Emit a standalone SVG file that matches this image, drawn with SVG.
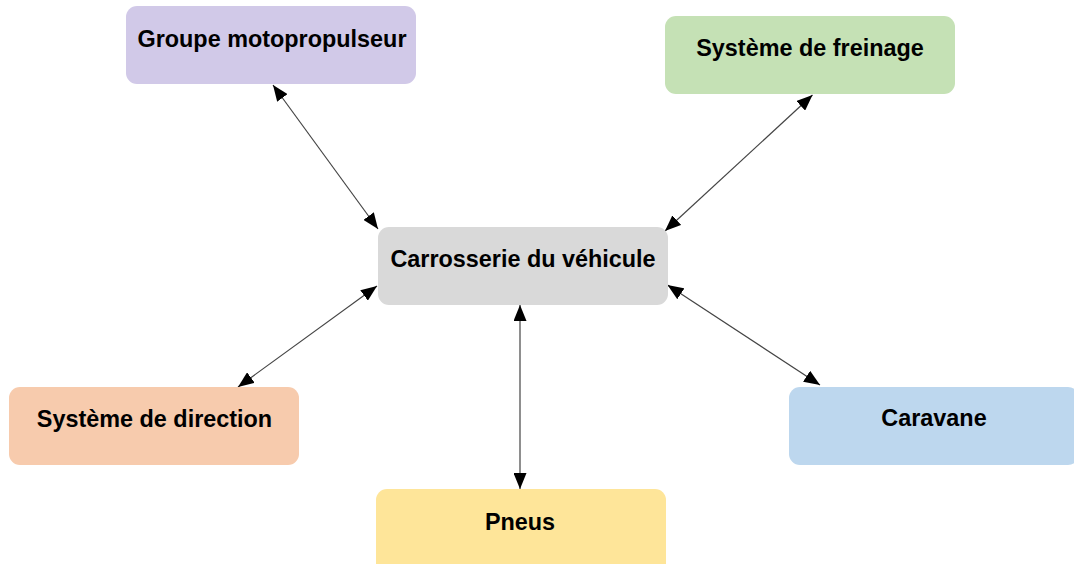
<svg xmlns="http://www.w3.org/2000/svg" width="1074" height="564" viewBox="0 0 1074 564">
<style>
.box{stroke:none}
.lbl{font-family:"Liberation Sans",Arial,sans-serif;font-weight:bold;font-size:23.4px;fill:#000;text-anchor:middle}
.conn{stroke:#444;stroke-width:1.2;fill:none;marker-start:url(#ah);marker-end:url(#ah)}
</style>
<defs>
<marker id="ah" viewBox="0 0 16 13" refX="16" refY="6.5" markerWidth="16" markerHeight="13" markerUnits="userSpaceOnUse" orient="auto-start-reverse">
<path d="M0,0 L16,6.5 L0,13 Z" fill="#000"/>
</marker>
</defs>
<rect width="1074" height="564" fill="#fff"/>
<g id="connectors">
<line class="conn" x1="273" y1="85" x2="378" y2="229"/>
<line class="conn" x1="812.5" y1="95" x2="665" y2="231"/>
<line class="conn" x1="377" y1="286" x2="238" y2="387"/>
<line class="conn" x1="520" y1="305" x2="520" y2="489"/>
<line class="conn" x1="667.5" y1="285" x2="820" y2="385"/>
</g>
<g id="groupe">
<rect class="box" x="126" y="6" width="290" height="78" rx="11" fill="#d1c9e8"/>
<text class="lbl" x="272" y="47">Groupe motopropulseur</text>
</g>
<g id="freinage">
<rect class="box" x="665" y="16" width="290" height="78" rx="11" fill="#c5e1b5"/>
<text class="lbl" x="810" y="56">Système de freinage</text>
</g>
<g id="carrosserie">
<rect class="box" x="378" y="227" width="290" height="78" rx="11" fill="#d9d9d9"/>
<text class="lbl" x="523" y="267">Carrosserie du véhicule</text>
</g>
<g id="direction">
<rect class="box" x="9" y="387" width="290" height="78" rx="11" fill="#f7cbad"/>
<text class="lbl" x="154.5" y="427">Système de direction</text>
</g>
<g id="caravane">
<rect class="box" x="789" y="387" width="290" height="78" rx="11" fill="#bdd7ee"/>
<text class="lbl" x="934" y="426">Caravane</text>
</g>
<g id="pneus">
<rect class="box" x="376" y="489" width="290" height="90" rx="11" fill="#fee599"/>
<text class="lbl" x="520" y="530">Pneus</text>
</g>
</svg>
